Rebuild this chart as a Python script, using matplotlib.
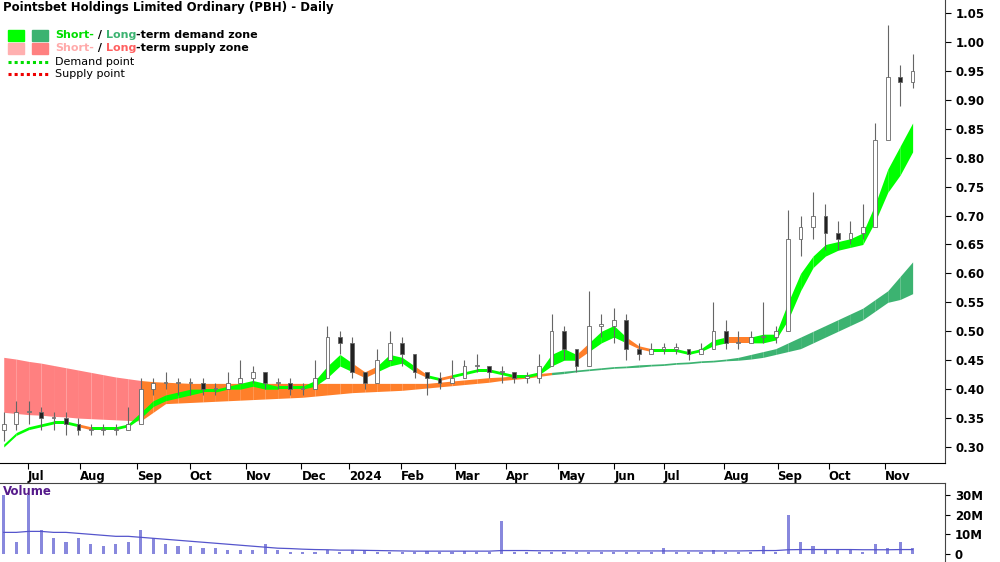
import matplotlib
matplotlib.use("Agg")
import matplotlib.pyplot as plt
import numpy as np

closes = [0.34,0.36,0.36,0.35,0.35,0.34,0.33,0.33,0.33,0.33,0.34,0.40,0.41,0.41,0.41,0.41,0.40,0.40,0.41,0.42,
          0.43,0.41,0.41,0.40,0.40,0.42,0.49,0.48,0.43,0.41,0.45,0.48,0.46,0.43,0.42,0.41,0.42,0.44,0.44,0.43,
          0.43,0.42,0.42,0.44,0.50,0.47,0.44,0.51,0.51,0.52,0.47,0.46,0.47,0.47,0.47,0.46,0.47,0.50,0.48,0.48,
          0.49,0.49,0.50,0.66,0.68,0.70,0.67,0.66,0.67,0.68,0.83,0.94,0.93,0.95]
highs  = [0.36,0.38,0.38,0.37,0.36,0.36,0.35,0.34,0.34,0.34,0.37,0.42,0.42,0.43,0.42,0.42,0.42,0.41,0.43,0.45,
          0.44,0.43,0.42,0.42,0.41,0.45,0.51,0.50,0.49,0.43,0.47,0.50,0.49,0.46,0.43,0.43,0.45,0.45,0.46,0.44,
          0.44,0.43,0.43,0.46,0.53,0.51,0.47,0.57,0.53,0.54,0.53,0.48,0.48,0.48,0.48,0.47,0.48,0.55,0.52,0.50,
          0.50,0.55,0.51,0.71,0.70,0.74,0.72,0.69,0.69,0.72,0.86,1.03,0.96,0.98]
lows   = [0.31,0.33,0.34,0.33,0.33,0.32,0.32,0.32,0.32,0.32,0.33,0.36,0.39,0.40,0.39,0.39,0.39,0.39,0.40,0.41,
          0.41,0.40,0.40,0.39,0.39,0.40,0.44,0.46,0.42,0.40,0.41,0.45,0.44,0.42,0.39,0.40,0.41,0.42,0.43,0.42,
          0.41,0.41,0.41,0.41,0.44,0.45,0.43,0.44,0.49,0.48,0.45,0.45,0.46,0.46,0.46,0.45,0.46,0.47,0.47,0.47,
          0.48,0.48,0.48,0.50,0.63,0.66,0.64,0.64,0.65,0.66,0.70,0.88,0.89,0.92]
st_lower = [0.30,0.32,0.33,0.335,0.34,0.34,0.335,0.33,0.33,0.33,0.335,0.35,0.37,0.38,0.385,0.39,0.395,0.395,0.40,0.40,
            0.405,0.40,0.40,0.40,0.40,0.405,0.42,0.44,0.43,0.42,0.43,0.44,0.445,0.43,0.42,0.415,0.42,0.425,0.43,0.43,
            0.425,0.42,0.42,0.425,0.44,0.45,0.45,0.465,0.48,0.49,0.48,0.47,0.465,0.465,0.465,0.46,0.465,0.475,0.48,0.48,
            0.48,0.48,0.485,0.52,0.57,0.61,0.63,0.64,0.645,0.65,0.69,0.74,0.77,0.81]
st_upper = [0.305,0.325,0.335,0.34,0.345,0.345,0.34,0.335,0.335,0.335,0.34,0.36,0.38,0.39,0.395,0.40,0.40,0.40,0.405,0.41,
            0.415,0.41,0.405,0.405,0.405,0.415,0.44,0.46,0.445,0.43,0.44,0.46,0.455,0.44,0.425,0.42,0.425,0.43,0.435,0.435,
            0.43,0.425,0.425,0.43,0.46,0.47,0.46,0.48,0.50,0.51,0.49,0.475,0.47,0.47,0.47,0.465,0.47,0.485,0.49,0.49,
            0.49,0.495,0.495,0.55,0.60,0.63,0.65,0.655,0.66,0.67,0.72,0.78,0.82,0.86]
lt_upper = [0.455,0.452,0.448,0.445,0.441,0.437,0.433,0.429,0.425,0.421,0.418,0.415,0.413,0.412,0.411,0.41,0.41,0.41,0.41,0.41,
            0.41,0.41,0.41,0.41,0.41,0.41,0.41,0.41,0.41,0.41,0.41,0.41,0.41,0.41,0.41,0.412,0.414,0.416,0.418,0.42,
            0.421,0.423,0.425,0.427,0.429,0.431,0.433,0.435,0.437,0.439,0.44,0.442,0.443,0.444,0.446,0.447,0.449,0.45,0.452,0.455,
            0.46,0.465,0.47,0.48,0.49,0.50,0.51,0.52,0.53,0.54,0.555,0.57,0.595,0.62]
lt_lower = [0.36,0.358,0.356,0.355,0.353,0.352,0.35,0.349,0.348,0.347,0.346,0.345,0.36,0.375,0.376,0.377,0.378,0.379,0.38,0.381,
            0.382,0.383,0.384,0.385,0.386,0.388,0.39,0.392,0.394,0.395,0.396,0.397,0.398,0.40,0.402,0.404,0.406,0.408,0.41,0.412,
            0.415,0.417,0.419,0.422,0.425,0.427,0.43,0.432,0.434,0.436,0.437,0.438,0.44,0.441,0.443,0.444,0.446,0.447,0.449,0.45,
            0.452,0.455,0.46,0.465,0.47,0.48,0.49,0.50,0.51,0.52,0.535,0.55,0.555,0.565]
# long-term zone state per week: S = supply, O = overlap/orange, D = demand
lt_state = "SSSSSSSSSSS" + "O" * 33 + "D" * 30
volume = [30,6,30,12,8,6,8,5,4,5,6,12,8,5,4,4,3,3,2,2,
          2,5,2,1,1,1,2,1,2,2,1,1,1,1,1.5,1,1,1.5,1,1,
          17,1,1,1,1,1,1,1,1,1,1,1,1,3,1,1,1,2,1,1,
          1,4,1,20,6,4,2,2,2,1,5,3,6,3]
vol_avg = [11,11,11.5,11.5,11,11,10.5,10,9.5,9,9,8.5,8,7.5,7,6.5,6,5.5,5,4.5,
           4,3.5,3,2.8,2.5,2.3,2.2,2,2,1.9,1.8,1.7,1.6,1.5,1.5,1.5,1.5,1.5,1.5,1.5,
           1.8,1.8,1.8,1.7,1.7,1.7,1.6,1.6,1.6,1.6,1.6,1.6,1.6,1.6,1.6,1.6,1.6,1.6,1.6,1.6,
           1.7,1.8,1.8,2.2,2.3,2.3,2.3,2.3,2.3,2.2,2.2,2.2,2.3,2.3]
month_labels = ["Jul","Aug","Sep","Oct","Nov","Dec","2024","Feb","Mar","Apr","May","Jun","Jul","Aug","Sep","Oct","Nov"]
month_pos = [2.16,6.4,10.96,15.2,19.68,24.16,28.0,32.16,36.48,40.56,44.8,49.28,53.28,58.1,62.4,66.5,71.0]

C_SD, C_LD, C_SS, C_LS, C_OR = "#00FF00", "#3CB371", "#FFB0B0", "#FF8080", "#FF7F2A"

fig = plt.figure(figsize=(10, 5.62), dpi=100)
axp = fig.add_axes([0, 1-463/562, 0.945, 463/562])
axv = fig.add_axes([0, 0, 0.945, 79/562])
n = len(closes)
x = np.arange(n)
c = np.array(closes); lu = np.array(lt_upper); ll = np.array(lt_lower)
su = np.array(st_upper); sl = np.array(st_lower)

cmap = {"S": C_LS, "O": C_OR, "D": C_LD}
for i in range(n-1):
    axp.fill_between([i, i+1], ll[i:i+2], lu[i:i+2], color=cmap[lt_state[i]], lw=0, zorder=1)
for i in range(n-1):
    col = C_SD if c[i] >= su[i] - 0.005 else C_OR
    axp.fill_between([i, i+1], sl[i:i+2], su[i:i+2], color=col, lw=0, zorder=2)

opens = [closes[0] - 0.01] + closes[:-1]
for i in range(n):
    axp.vlines(i, lows[i], highs[i], color="#666666", lw=0.8, zorder=3)
    o, cl = opens[i], closes[i]
    fc = "white" if cl >= o else "#222222"
    axp.bar(i, max(abs(cl-o), 0.002), bottom=min(o, cl), width=0.3, color=fc,
            edgecolor="#666666", lw=0.6, zorder=4)

axp.set_ylim(0.2724, 1.0725)
axp.set_xlim(-0.3, 75.6)
axp.yaxis.tick_right()
axp.set_yticks(np.arange(0.30, 1.051, 0.05))
axp.set_yticklabels([f"{v:.2f}" for v in np.arange(0.30, 1.051, 0.05)], fontsize=8.5, fontweight="bold")
axp.tick_params(axis="y", length=4, direction="out")
axp.set_xticks([p - 0.25 for p in month_pos])
axp.set_xticklabels(month_labels, fontsize=8.5, fontweight="bold", ha="left")
axp.tick_params(axis="x", length=4, direction="out", pad=1)
for s in ["top", "left"]:
    axp.spines[s].set_visible(False)
axp.spines["right"].set_color("#444444")

axp.text(0.003, 0.997, "Pointsbet Holdings Limited Ordinary (PBH) - Daily", transform=axp.transAxes,
         fontsize=8.5, fontweight="bold", va="top", ha="left")
fa = fig.transFigure
def px(xp, yp):
    return xp/1000, 1-yp/562
for (x0, col) in [(8, C_SD), (32, C_LD)]:
    fig.patches.append(plt.Rectangle(px(x0, 41), 16/1000, 11/562, color=col, transform=fa))
for (x0, col) in [(8, C_SS), (32, C_LS)]:
    fig.patches.append(plt.Rectangle(px(x0, 54), 16/1000, 11/562, color=col, transform=fa))
fig.lines.append(plt.Line2D([8/1000, 48/1000], [1-62/562]*2, color="#00DD00", ls=(0, (1, 1)), lw=2.2, transform=fa))
fig.lines.append(plt.Line2D([8/1000, 48/1000], [1-74/562]*2, color="#EE0000", ls=(0, (1, 1)), lw=2.2, transform=fa))
segs1 = [("Short-", "#00DD00"), (" / ", "black"), ("Long", "#3CB371"), ("-term demand zone", "black")]
segs2 = [("Short-", "#FFAAAA"), (" / ", "black"), ("Long", "#FF6060"), ("-term supply zone", "black")]
r = fig.canvas.get_renderer()
for parts, yp in [(segs1, 35), (segs2, 48)]:
    xx = 55/1000
    for t, col in parts:
        tt = fig.text(xx, 1-yp/562, t, color=col, fontsize=8, fontweight="bold", va="center")
        bb = tt.get_window_extent(renderer=r)
        xx += bb.width / 1000
fig.text(55/1000, 1-62/562, "Demand point", fontsize=8, va="center")
fig.text(55/1000, 1-74/562, "Supply point", fontsize=8, va="center")

axv.bar(x, volume, width=0.25, color="#8888DD", zorder=2)
axv.plot(x, vol_avg, color="#5555CC", lw=0.9, zorder=3)
axv.set_xlim(-0.3, 75.6)
axv.set_ylim(-4, 36)
axv.yaxis.tick_right()
axv.set_yticks([0, 10, 20, 30])
axv.set_yticklabels(["0", "10M", "20M", "30M"], fontsize=8.5, fontweight="bold")
axv.set_xticks([])
for s in ["left", "bottom"]:
    axv.spines[s].set_visible(False)
axv.spines["top"].set_color("#444444")
axv.spines["right"].set_color("#444444")
axv.text(0.003, 0.97, "Volume", transform=axv.transAxes, color="#551A8B", fontsize=8.5,
         fontweight="bold", va="top")
fig.savefig("out.png", dpi=100)
